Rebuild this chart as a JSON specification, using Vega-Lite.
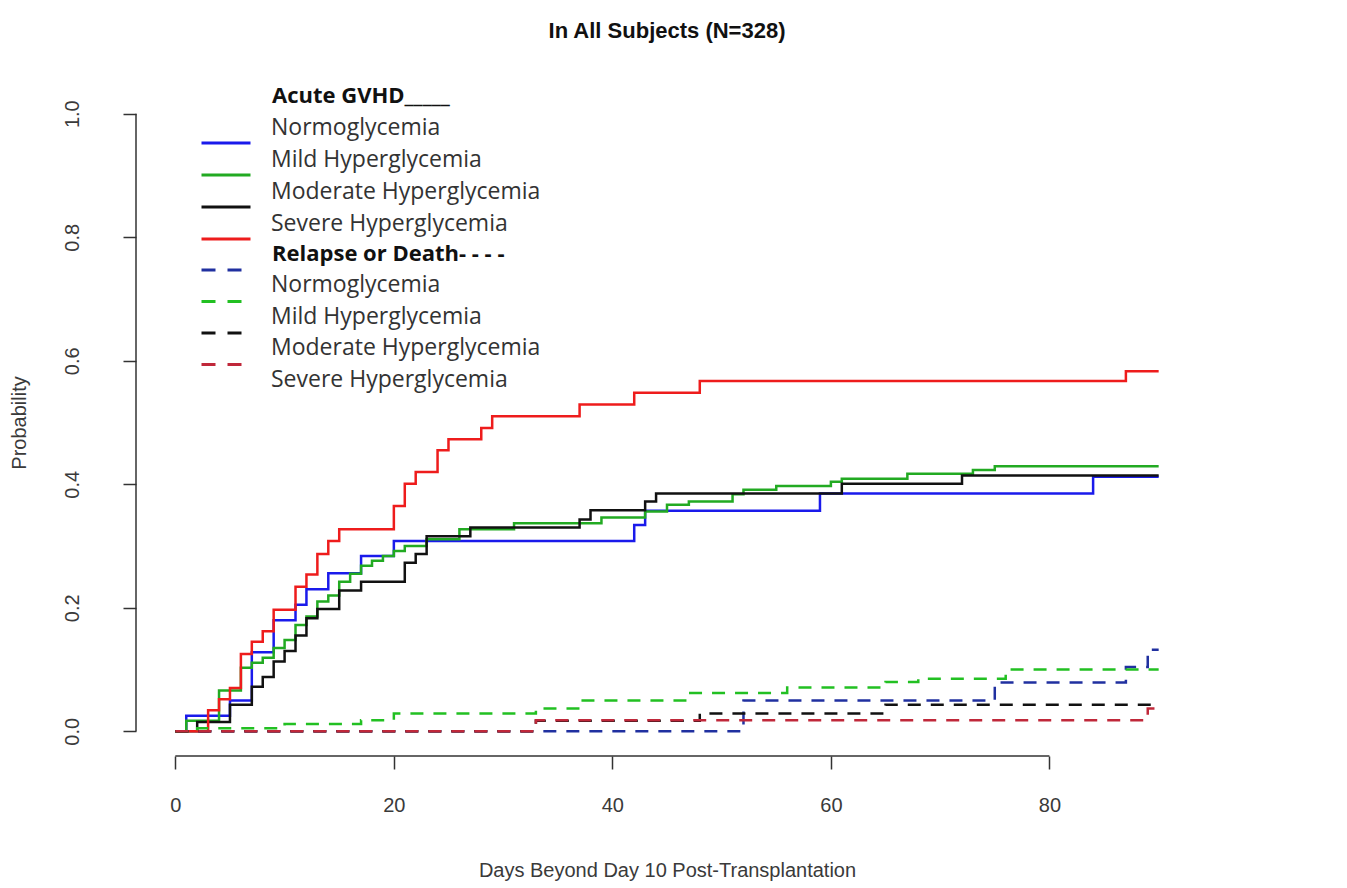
{
  "$schema": "https://vega.github.io/schema/vega-lite/v6.json",
  "width": 1062,
  "height": 667,
  "autosize": {"type": "none"},
  "padding": {"left": 136, "top": 89, "right": 149, "bottom": 132},
  "background": "white",
  "title": {"text": "In All Subjects (N=328)", "font": "Liberation Sans", "fontSize": 22, "fontWeight": "bold", "color": "#111111", "offset": 43, "anchor": "middle"},
  "config": {"view": {"stroke": null}},
  "datasets": {
    "curves": [
      {"outcome": "Acute GVHD", "group": "Normoglycemia", "day": 0, "prob": 0},
      {"outcome": "Acute GVHD", "group": "Normoglycemia", "day": 1, "prob": 0.025},
      {"outcome": "Acute GVHD", "group": "Normoglycemia", "day": 5, "prob": 0.05},
      {"outcome": "Acute GVHD", "group": "Normoglycemia", "day": 7, "prob": 0.128},
      {"outcome": "Acute GVHD", "group": "Normoglycemia", "day": 9, "prob": 0.18},
      {"outcome": "Acute GVHD", "group": "Normoglycemia", "day": 11, "prob": 0.205},
      {"outcome": "Acute GVHD", "group": "Normoglycemia", "day": 12, "prob": 0.23},
      {"outcome": "Acute GVHD", "group": "Normoglycemia", "day": 14, "prob": 0.256},
      {"outcome": "Acute GVHD", "group": "Normoglycemia", "day": 17, "prob": 0.284},
      {"outcome": "Acute GVHD", "group": "Normoglycemia", "day": 20, "prob": 0.308},
      {"outcome": "Acute GVHD", "group": "Normoglycemia", "day": 42, "prob": 0.334},
      {"outcome": "Acute GVHD", "group": "Normoglycemia", "day": 43, "prob": 0.357},
      {"outcome": "Acute GVHD", "group": "Normoglycemia", "day": 59, "prob": 0.385},
      {"outcome": "Acute GVHD", "group": "Normoglycemia", "day": 84, "prob": 0.412},
      {"outcome": "Acute GVHD", "group": "Normoglycemia", "day": 90, "prob": 0.412},
      {"outcome": "Acute GVHD", "group": "Mild Hyperglycemia", "day": 0, "prob": 0},
      {"outcome": "Acute GVHD", "group": "Mild Hyperglycemia", "day": 1, "prob": 0.017},
      {"outcome": "Acute GVHD", "group": "Mild Hyperglycemia", "day": 4, "prob": 0.066},
      {"outcome": "Acute GVHD", "group": "Mild Hyperglycemia", "day": 6, "prob": 0.103},
      {"outcome": "Acute GVHD", "group": "Mild Hyperglycemia", "day": 7, "prob": 0.111},
      {"outcome": "Acute GVHD", "group": "Mild Hyperglycemia", "day": 8, "prob": 0.119},
      {"outcome": "Acute GVHD", "group": "Mild Hyperglycemia", "day": 9, "prob": 0.135},
      {"outcome": "Acute GVHD", "group": "Mild Hyperglycemia", "day": 10, "prob": 0.148},
      {"outcome": "Acute GVHD", "group": "Mild Hyperglycemia", "day": 11, "prob": 0.172},
      {"outcome": "Acute GVHD", "group": "Mild Hyperglycemia", "day": 12, "prob": 0.186},
      {"outcome": "Acute GVHD", "group": "Mild Hyperglycemia", "day": 13, "prob": 0.21},
      {"outcome": "Acute GVHD", "group": "Mild Hyperglycemia", "day": 14, "prob": 0.22},
      {"outcome": "Acute GVHD", "group": "Mild Hyperglycemia", "day": 15, "prob": 0.242},
      {"outcome": "Acute GVHD", "group": "Mild Hyperglycemia", "day": 16, "prob": 0.255},
      {"outcome": "Acute GVHD", "group": "Mild Hyperglycemia", "day": 17, "prob": 0.268},
      {"outcome": "Acute GVHD", "group": "Mild Hyperglycemia", "day": 18, "prob": 0.276},
      {"outcome": "Acute GVHD", "group": "Mild Hyperglycemia", "day": 19, "prob": 0.284},
      {"outcome": "Acute GVHD", "group": "Mild Hyperglycemia", "day": 20, "prob": 0.292},
      {"outcome": "Acute GVHD", "group": "Mild Hyperglycemia", "day": 21, "prob": 0.3},
      {"outcome": "Acute GVHD", "group": "Mild Hyperglycemia", "day": 23, "prob": 0.311},
      {"outcome": "Acute GVHD", "group": "Mild Hyperglycemia", "day": 26, "prob": 0.327},
      {"outcome": "Acute GVHD", "group": "Mild Hyperglycemia", "day": 31, "prob": 0.337},
      {"outcome": "Acute GVHD", "group": "Mild Hyperglycemia", "day": 39, "prob": 0.346},
      {"outcome": "Acute GVHD", "group": "Mild Hyperglycemia", "day": 43, "prob": 0.356},
      {"outcome": "Acute GVHD", "group": "Mild Hyperglycemia", "day": 45, "prob": 0.367},
      {"outcome": "Acute GVHD", "group": "Mild Hyperglycemia", "day": 47, "prob": 0.372},
      {"outcome": "Acute GVHD", "group": "Mild Hyperglycemia", "day": 51, "prob": 0.384},
      {"outcome": "Acute GVHD", "group": "Mild Hyperglycemia", "day": 52, "prob": 0.391},
      {"outcome": "Acute GVHD", "group": "Mild Hyperglycemia", "day": 55, "prob": 0.397},
      {"outcome": "Acute GVHD", "group": "Mild Hyperglycemia", "day": 60, "prob": 0.404},
      {"outcome": "Acute GVHD", "group": "Mild Hyperglycemia", "day": 61, "prob": 0.409},
      {"outcome": "Acute GVHD", "group": "Mild Hyperglycemia", "day": 67, "prob": 0.417},
      {"outcome": "Acute GVHD", "group": "Mild Hyperglycemia", "day": 73, "prob": 0.423},
      {"outcome": "Acute GVHD", "group": "Mild Hyperglycemia", "day": 75, "prob": 0.429},
      {"outcome": "Acute GVHD", "group": "Mild Hyperglycemia", "day": 90, "prob": 0.429},
      {"outcome": "Acute GVHD", "group": "Moderate Hyperglycemia", "day": 0, "prob": 0},
      {"outcome": "Acute GVHD", "group": "Moderate Hyperglycemia", "day": 2, "prob": 0.015},
      {"outcome": "Acute GVHD", "group": "Moderate Hyperglycemia", "day": 5, "prob": 0.043},
      {"outcome": "Acute GVHD", "group": "Moderate Hyperglycemia", "day": 7, "prob": 0.072},
      {"outcome": "Acute GVHD", "group": "Moderate Hyperglycemia", "day": 8, "prob": 0.088},
      {"outcome": "Acute GVHD", "group": "Moderate Hyperglycemia", "day": 9, "prob": 0.113},
      {"outcome": "Acute GVHD", "group": "Moderate Hyperglycemia", "day": 10, "prob": 0.13},
      {"outcome": "Acute GVHD", "group": "Moderate Hyperglycemia", "day": 11, "prob": 0.155},
      {"outcome": "Acute GVHD", "group": "Moderate Hyperglycemia", "day": 12, "prob": 0.183},
      {"outcome": "Acute GVHD", "group": "Moderate Hyperglycemia", "day": 13, "prob": 0.198},
      {"outcome": "Acute GVHD", "group": "Moderate Hyperglycemia", "day": 15, "prob": 0.228},
      {"outcome": "Acute GVHD", "group": "Moderate Hyperglycemia", "day": 17, "prob": 0.242},
      {"outcome": "Acute GVHD", "group": "Moderate Hyperglycemia", "day": 21, "prob": 0.273},
      {"outcome": "Acute GVHD", "group": "Moderate Hyperglycemia", "day": 22, "prob": 0.287},
      {"outcome": "Acute GVHD", "group": "Moderate Hyperglycemia", "day": 23, "prob": 0.316},
      {"outcome": "Acute GVHD", "group": "Moderate Hyperglycemia", "day": 27, "prob": 0.33},
      {"outcome": "Acute GVHD", "group": "Moderate Hyperglycemia", "day": 37, "prob": 0.343},
      {"outcome": "Acute GVHD", "group": "Moderate Hyperglycemia", "day": 38, "prob": 0.358},
      {"outcome": "Acute GVHD", "group": "Moderate Hyperglycemia", "day": 43, "prob": 0.372},
      {"outcome": "Acute GVHD", "group": "Moderate Hyperglycemia", "day": 44, "prob": 0.385},
      {"outcome": "Acute GVHD", "group": "Moderate Hyperglycemia", "day": 61, "prob": 0.401},
      {"outcome": "Acute GVHD", "group": "Moderate Hyperglycemia", "day": 72, "prob": 0.414},
      {"outcome": "Acute GVHD", "group": "Moderate Hyperglycemia", "day": 90, "prob": 0.414},
      {"outcome": "Acute GVHD", "group": "Severe Hyperglycemia", "day": 0, "prob": 0},
      {"outcome": "Acute GVHD", "group": "Severe Hyperglycemia", "day": 3, "prob": 0.034},
      {"outcome": "Acute GVHD", "group": "Severe Hyperglycemia", "day": 4, "prob": 0.052},
      {"outcome": "Acute GVHD", "group": "Severe Hyperglycemia", "day": 5, "prob": 0.07},
      {"outcome": "Acute GVHD", "group": "Severe Hyperglycemia", "day": 6, "prob": 0.125},
      {"outcome": "Acute GVHD", "group": "Severe Hyperglycemia", "day": 7, "prob": 0.145},
      {"outcome": "Acute GVHD", "group": "Severe Hyperglycemia", "day": 8, "prob": 0.162},
      {"outcome": "Acute GVHD", "group": "Severe Hyperglycemia", "day": 9, "prob": 0.197},
      {"outcome": "Acute GVHD", "group": "Severe Hyperglycemia", "day": 11, "prob": 0.234},
      {"outcome": "Acute GVHD", "group": "Severe Hyperglycemia", "day": 12, "prob": 0.254},
      {"outcome": "Acute GVHD", "group": "Severe Hyperglycemia", "day": 13, "prob": 0.287},
      {"outcome": "Acute GVHD", "group": "Severe Hyperglycemia", "day": 14, "prob": 0.308},
      {"outcome": "Acute GVHD", "group": "Severe Hyperglycemia", "day": 15, "prob": 0.327},
      {"outcome": "Acute GVHD", "group": "Severe Hyperglycemia", "day": 20, "prob": 0.365},
      {"outcome": "Acute GVHD", "group": "Severe Hyperglycemia", "day": 21, "prob": 0.401},
      {"outcome": "Acute GVHD", "group": "Severe Hyperglycemia", "day": 22, "prob": 0.42},
      {"outcome": "Acute GVHD", "group": "Severe Hyperglycemia", "day": 24, "prob": 0.455},
      {"outcome": "Acute GVHD", "group": "Severe Hyperglycemia", "day": 25, "prob": 0.473},
      {"outcome": "Acute GVHD", "group": "Severe Hyperglycemia", "day": 28, "prob": 0.491},
      {"outcome": "Acute GVHD", "group": "Severe Hyperglycemia", "day": 29, "prob": 0.51},
      {"outcome": "Acute GVHD", "group": "Severe Hyperglycemia", "day": 37, "prob": 0.529},
      {"outcome": "Acute GVHD", "group": "Severe Hyperglycemia", "day": 42, "prob": 0.548},
      {"outcome": "Acute GVHD", "group": "Severe Hyperglycemia", "day": 48, "prob": 0.567},
      {"outcome": "Acute GVHD", "group": "Severe Hyperglycemia", "day": 87, "prob": 0.583},
      {"outcome": "Acute GVHD", "group": "Severe Hyperglycemia", "day": 90, "prob": 0.583},
      {"outcome": "Relapse or Death", "group": "Normoglycemia", "day": 0, "prob": 0},
      {"outcome": "Relapse or Death", "group": "Normoglycemia", "day": 52, "prob": 0.05},
      {"outcome": "Relapse or Death", "group": "Normoglycemia", "day": 75, "prob": 0.079},
      {"outcome": "Relapse or Death", "group": "Normoglycemia", "day": 87, "prob": 0.104},
      {"outcome": "Relapse or Death", "group": "Normoglycemia", "day": 89, "prob": 0.132},
      {"outcome": "Relapse or Death", "group": "Normoglycemia", "day": 90, "prob": 0.132},
      {"outcome": "Relapse or Death", "group": "Mild Hyperglycemia", "day": 0, "prob": 0},
      {"outcome": "Relapse or Death", "group": "Mild Hyperglycemia", "day": 2, "prob": 0.005},
      {"outcome": "Relapse or Death", "group": "Mild Hyperglycemia", "day": 10, "prob": 0.012},
      {"outcome": "Relapse or Death", "group": "Mild Hyperglycemia", "day": 17, "prob": 0.018},
      {"outcome": "Relapse or Death", "group": "Mild Hyperglycemia", "day": 20, "prob": 0.029},
      {"outcome": "Relapse or Death", "group": "Mild Hyperglycemia", "day": 33, "prob": 0.037},
      {"outcome": "Relapse or Death", "group": "Mild Hyperglycemia", "day": 37, "prob": 0.05},
      {"outcome": "Relapse or Death", "group": "Mild Hyperglycemia", "day": 47, "prob": 0.062},
      {"outcome": "Relapse or Death", "group": "Mild Hyperglycemia", "day": 56, "prob": 0.071},
      {"outcome": "Relapse or Death", "group": "Mild Hyperglycemia", "day": 65, "prob": 0.08},
      {"outcome": "Relapse or Death", "group": "Mild Hyperglycemia", "day": 68, "prob": 0.085},
      {"outcome": "Relapse or Death", "group": "Mild Hyperglycemia", "day": 76, "prob": 0.1},
      {"outcome": "Relapse or Death", "group": "Mild Hyperglycemia", "day": 90, "prob": 0.1},
      {"outcome": "Relapse or Death", "group": "Moderate Hyperglycemia", "day": 0, "prob": 0},
      {"outcome": "Relapse or Death", "group": "Moderate Hyperglycemia", "day": 33, "prob": 0.017},
      {"outcome": "Relapse or Death", "group": "Moderate Hyperglycemia", "day": 48, "prob": 0.029},
      {"outcome": "Relapse or Death", "group": "Moderate Hyperglycemia", "day": 65, "prob": 0.043},
      {"outcome": "Relapse or Death", "group": "Moderate Hyperglycemia", "day": 90, "prob": 0.043},
      {"outcome": "Relapse or Death", "group": "Severe Hyperglycemia", "day": 0, "prob": 0},
      {"outcome": "Relapse or Death", "group": "Severe Hyperglycemia", "day": 33, "prob": 0.018},
      {"outcome": "Relapse or Death", "group": "Severe Hyperglycemia", "day": 89, "prob": 0.037},
      {"outcome": "Relapse or Death", "group": "Severe Hyperglycemia", "day": 90, "prob": 0.037}
    ]
  },
  "data": {"name": "curves"},
  "encoding": {
    "x": {
      "field": "day", "type": "quantitative",
      "scale": {"domain": [-3.6, 93.6], "nice": false, "zero": false},
      "axis": {
        "values": [0, 20, 40, 60, 80], "format": "d", "grid": false, "domain": false,
        "tickColor": "#333333", "tickWidth": 1.5, "tickSize": 13,
        "labelFont": "Liberation Sans", "labelFontSize": 20, "labelColor": "#3a3a3a", "labelPadding": 26, "labelFlush": false,
        "title": "Days Beyond Day 10 Post-Transplantation",
        "titleFont": "Liberation Sans", "titleFontSize": 20, "titleFontWeight": "normal", "titleColor": "#3a3a3a", "titlePadding": 45
      }
    },
    "y": {
      "field": "prob", "type": "quantitative",
      "scale": {"domain": [-0.04, 1.04], "nice": false, "zero": false},
      "axis": {
        "values": [0, 0.2, 0.4, 0.6, 0.8, 1.0], "format": ".1f", "grid": false, "domain": false,
        "tickColor": "#333333", "tickWidth": 1.5, "tickSize": 13,
        "labelFont": "Liberation Sans", "labelFontSize": 20, "labelColor": "#3a3a3a", "labelPadding": 41, "labelFlush": false,
        "labelAngle": -90, "labelAlign": "center", "labelBaseline": "bottom",
        "title": "Probability",
        "titleFont": "Liberation Sans", "titleFontSize": 20, "titleFontWeight": "normal", "titleColor": "#3a3a3a", "titlePadding": 33
      }
    }
  },
  "layer": [
    {
      "transform": [{"filter": "datum.outcome === 'Acute GVHD' && datum.group === 'Normoglycemia' && datum.day === 0"}],
      "mark": {"type": "rule", "color": "#333333", "strokeWidth": 1.5},
      "encoding": {
        "x": {"datum": 0, "type": "quantitative"},
        "x2": {"datum": 80},
        "y": {"datum": -0.04, "type": "quantitative"}
      }
    },
    {
      "transform": [{"filter": "datum.outcome === 'Acute GVHD' && datum.group === 'Normoglycemia' && datum.day === 0"}],
      "mark": {"type": "rule", "color": "#333333", "strokeWidth": 1.5},
      "encoding": {
        "x": {"datum": -3.6, "type": "quantitative"},
        "y": {"datum": 0, "type": "quantitative"},
        "y2": {"datum": 1}
      }
    },
    {
      "transform": [{"filter": "datum.outcome === 'Acute GVHD'"}],
      "mark": {"type": "line", "interpolate": "step-after", "strokeWidth": 2.5},
      "encoding": {
        "color": {
          "field": "group", "type": "nominal",
          "scale": {"domain": ["Normoglycemia", "Mild Hyperglycemia", "Moderate Hyperglycemia", "Severe Hyperglycemia"], "range": ["#1a1aeb", "#22aa22", "#111111", "#ee1c1c"]},
          "legend": {
            "title": "Acute GVHD_____", "orient": "none", "legendX": 64, "legendY": -3, "direction": "vertical", "padding": 0,
            "symbolType": "stroke", "symbolSize": 2401, "symbolStrokeWidth": 3,
            "labelFont": "Open Sans", "labelFontSize": 23, "labelColor": "#333333", "labelOffset": 19, "labelLimit": 400,
            "titleFont": "Open Sans", "titleFontSize": 22, "titleFontWeight": "bold", "titleColor": "#111111", "titleLimit": 400, "titlePadding": 9,
            "rowPadding": -0.5,
            "encode": {"labels": {"update": {"dy": {"value": -15}}}, "title": {"update": {"dx": {"value": 72}}}}
          }
        }
      }
    },
    {
      "transform": [{"filter": "datum.outcome === 'Relapse or Death'"}],
      "mark": {"type": "line", "interpolate": "step-after", "strokeWidth": 2.5, "strokeDash": [13, 10]},
      "encoding": {
        "color": {
          "field": "group", "type": "nominal",
          "scale": {"domain": ["Normoglycemia", "Mild Hyperglycemia", "Moderate Hyperglycemia", "Severe Hyperglycemia"], "range": ["#2030a0", "#22c022", "#111111", "#c0283a"]},
          "legend": {
            "title": "Relapse or Death- - - -", "orient": "none", "legendX": 64, "legendY": 155, "direction": "vertical", "padding": 0,
            "symbolType": "stroke", "symbolSize": 2401, "symbolStrokeWidth": 3, "symbolDash": [14, 12],
            "labelFont": "Open Sans", "labelFontSize": 23, "labelColor": "#333333", "labelOffset": 19, "labelLimit": 400,
            "titleFont": "Open Sans", "titleFontSize": 22, "titleFontWeight": "bold", "titleColor": "#111111", "titleLimit": 400, "titlePadding": 8,
            "rowPadding": -1.5,
            "encode": {
              "labels": {"update": {"dy": {"value": -15}}},
              "symbols": {"update": {"y": {"signal": "datum.size * 0.5 - 30"}}},
              "title": {"update": {"dx": {"value": 72}}}
            }
          }
        }
      }
    }
  ],
  "resolve": {"scale": {"color": "independent"}}
}
